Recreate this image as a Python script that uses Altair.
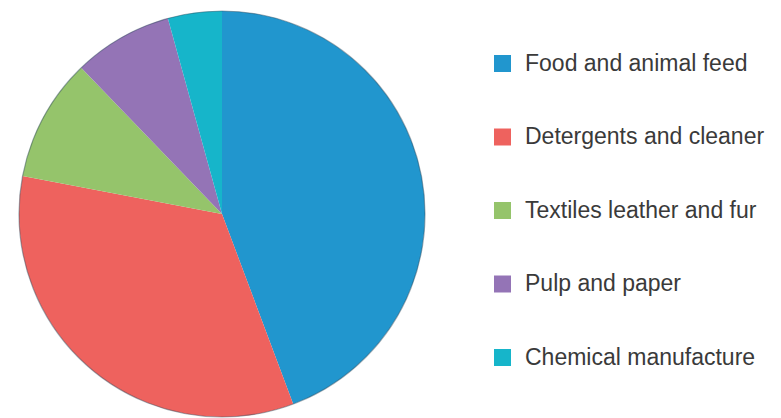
import altair as alt
import pandas as pd

categories = ["Food and animal feed", "Detergents and cleaner", "Textiles leather and fur",
              "Pulp and paper", "Chemical manufacture"]
shares = [44.3, 33.7, 9.8, 7.9, 4.3]
order_idx = [1, 2, 3, 4, 5]
colors = ["#2196CE", "#EE625E", "#95C46B", "#9474B6", "#16B5CA"]

df = pd.DataFrame({"category": categories, "share": shares, "idx": order_idx})

pie = alt.Chart(df).mark_arc(outerRadius=203, stroke=None).encode(
    theta=alt.Theta("share:Q", stack=True),
    order=alt.Order("idx:Q"),
    color=alt.Color(
        "category:N",
        scale=alt.Scale(domain=categories, range=colors),
        legend=alt.Legend(
            title=None,
            orient="none",
            legendX=483,
            legendY=39,
            symbolType="square",
            symbolSize=289,
            symbolStrokeWidth=0,
            symbolOpacity=1,
            labelFont="Liberation Sans",
            labelFontSize=23,
            labelColor="#3a3a3a",
            labelOffset=11,
            rowPadding=49.5,
            labelLimit=400,
        ),
    ),
)

outline = alt.Chart(pd.DataFrame({"k": [0]})).mark_arc(
    outerRadius=203, theta=0, theta2=6.2832, filled=False,
    stroke="#2e4a5c", strokeWidth=1.2, strokeOpacity=0.45,
).encode(opacity=alt.value(1))

chart = alt.layer(pie, outline).properties(
    width=428, height=402, padding=0, background="white"
).configure_view(strokeWidth=0)

chart.save("out.html", embed_options={"renderer": "svg", "actions": False})
